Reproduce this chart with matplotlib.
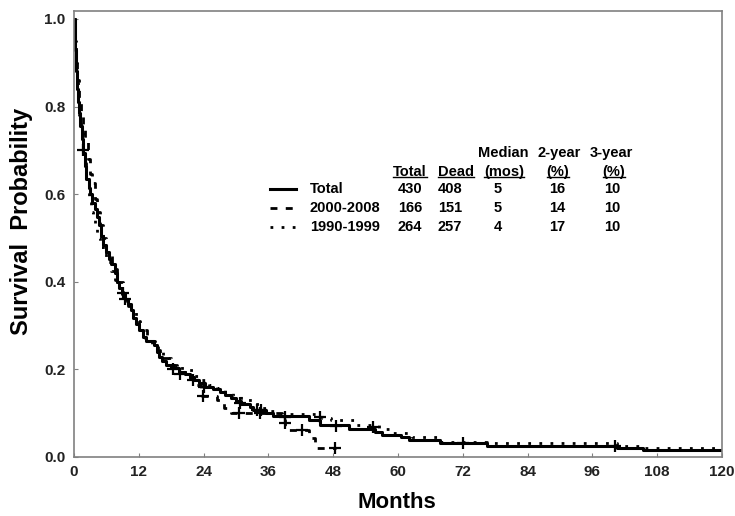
import matplotlib
matplotlib.use('Agg')
import matplotlib.pyplot as plt
from matplotlib.lines import Line2D

plt.rcParams['font.family'] = ['Liberation Sans', 'DejaVu Sans']
plt.rcParams['font.weight'] = 'bold'

# Kaplan-Meier steps (months, survival)
total_t = [0, 0.1, 0.2, 0.35, 0.5, 0.7, 0.9, 1.1, 1.4, 1.7, 2.0, 2.3, 2.7, 3.0, 3.4, 3.8, 4.2, 4.6,
           5.0, 5.4, 5.9, 6.4, 6.8, 7.6, 7.9, 8.4, 8.9, 9.5, 10.0, 10.5, 11.0, 11.5, 12.1, 12.7,
           13.4, 14.8, 15.3, 15.8, 16.3, 17.0, 18.0, 19.5, 20.6, 21.5, 22.3, 23.2, 24.2, 25.8,
           27.0, 28.0, 29.0, 30.0, 31.0, 32.5, 33.2, 35.5, 36.9, 43.5, 45.5, 51.0, 55.8, 57.0,
           60.5, 62.0, 67.8, 76.4, 100.5, 105.3, 120]
total_s = [1.0, 0.96, 0.93, 0.88, 0.84, 0.81, 0.785, 0.755, 0.725, 0.695, 0.665, 0.635, 0.615,
           0.60, 0.58, 0.565, 0.548, 0.53, 0.505, 0.485, 0.468, 0.452, 0.44, 0.42, 0.40, 0.385,
           0.372, 0.36, 0.35, 0.335, 0.318, 0.303, 0.29, 0.275, 0.265, 0.255, 0.24, 0.228, 0.218,
           0.21, 0.203, 0.195, 0.19, 0.183, 0.176, 0.168, 0.16, 0.155, 0.148, 0.142, 0.135, 0.128,
           0.12, 0.113, 0.107, 0.10, 0.093, 0.085, 0.072, 0.065, 0.058, 0.05, 0.045, 0.039, 0.031,
           0.026, 0.021, 0.016, 0.016]
total_cens_t = [1.7, 9.0, 9.4, 18.4, 19.6, 22.0, 24.0, 30.7, 33.8, 34.7, 39.0, 48.6, 55.4, 72.0, 100.2]
total_cens_s = [0.70, 0.375, 0.36, 0.20, 0.19, 0.176, 0.16, 0.123, 0.107, 0.107, 0.092, 0.07, 0.068, 0.031, 0.026]

recent_t = [0, 0.2, 0.4, 0.6, 0.9, 1.3, 1.7, 2.1, 2.6, 3.0, 3.4, 3.8, 4.3, 4.8, 5.3, 6.0, 7.0,
            8.0, 9.0, 10.0, 11.0, 12.0, 13.5, 15.0, 16.0, 17.5, 19.0, 21.0, 22.5, 23.5, 26.5,
            27.8, 29.0, 38.6, 39.0, 39.4, 43.6, 44.6, 48.5]
recent_s = [1.0, 0.95, 0.9, 0.86, 0.82, 0.78, 0.75, 0.72, 0.68, 0.645, 0.625, 0.59, 0.56, 0.53,
            0.50, 0.465, 0.43, 0.40, 0.37, 0.345, 0.315, 0.29, 0.265, 0.245, 0.225, 0.21, 0.195,
            0.18, 0.165, 0.14, 0.13, 0.112, 0.10, 0.084, 0.07, 0.062, 0.043, 0.02, 0.02]
recent_cens_t = [23.9, 30.6, 34.5, 39.0, 42.2, 48.3]
recent_cens_s = [0.14, 0.10, 0.10, 0.078, 0.062, 0.02]

older_t = [0, 0.1, 0.3, 0.5, 0.7, 1.0, 1.3, 1.6, 2.0, 2.3, 2.7, 3.1, 3.5, 3.9, 4.3, 4.8, 5.3,
           6.0, 6.8, 7.5, 8.3, 9.0, 9.8, 10.6, 11.4, 12.2, 13.2, 14.5, 15.5, 16.5, 18.0, 20.0,
           22.0, 23.5, 25.0, 26.5, 28.0, 29.5, 31.0, 33.0, 34.5, 36.0, 38.0, 46.0, 47.5, 52.0,
           56.5, 59.0, 62.5, 68.0, 76.5, 100.5, 105.3, 120]
older_s = [1.0, 0.95, 0.9, 0.86, 0.82, 0.78, 0.745, 0.71, 0.67, 0.63, 0.59, 0.56, 0.54, 0.52,
           0.50, 0.48, 0.465, 0.445, 0.425, 0.405, 0.385, 0.37, 0.35, 0.33, 0.31, 0.29, 0.272,
           0.258, 0.24, 0.225, 0.21, 0.198, 0.185, 0.175, 0.165, 0.158, 0.148, 0.14, 0.13, 0.12,
           0.112, 0.105, 0.098, 0.09, 0.085, 0.074, 0.065, 0.055, 0.045, 0.035, 0.031, 0.025,
           0.021, 0.021]
older_cens_t = [45.5]
older_cens_s = [0.092]

# table next to the legend
groups = ['Total', '2000-2008', '1990-1999']
n_total = ['430', '166', '264']
n_dead = ['408', '151', '257']
median_mos = ['5', '5', '4']
two_year = ['16', '14', '17']
three_year = ['10', '10', '10']

W, H = 735, 516
fig = plt.figure(figsize=(W / 100, H / 100), dpi=100)
ax = fig.add_axes([74 / W, 1 - 457 / H, 648 / W, 446 / H])

solid = dict(color='black', lw=2.2, linestyle='-')
dashed = dict(color='black', lw=2.0, linestyle=(0, (2.5, 3)))
dotted = dict(color='black', lw=2.0, linestyle=(0, (1, 3)))
styles = [solid, dashed, dotted]

ax.step(older_t, older_s, where='post', **dotted)
ax.step(recent_t, recent_s, where='post', **dashed)
ax.step(total_t, total_s, where='post', **solid)
for ct, cs in [(total_cens_t, total_cens_s), (recent_cens_t, recent_cens_s), (older_cens_t, older_cens_s)]:
    ax.plot(ct, cs, '+', color='black', ms=8, mew=1.6)

ax.set_xlim(0, 120)
ax.set_ylim(0, 1.018)
ax.set_xticks(range(0, 121, 12))
ax.set_yticks([0, 0.2, 0.4, 0.6, 0.8, 1.0])
ax.set_yticklabels(['0.0', '0.2', '0.4', '0.6', '0.8', '1.0'])
ax.tick_params(direction='in', length=3, color='#808080', labelsize=11, labelcolor='#222222')
ax.tick_params(axis='x', pad=6)
ax.tick_params(axis='y', pad=6)
for sp in ax.spines.values():
    sp.set_color('#808080')
    sp.set_linewidth(1.2)

fig.text(397 / W, 1 - 503 / H, 'Months', ha='center', va='center', fontsize=16, fontweight='bold')
fig.text(22 / W, 1 - 221 / H, 'Survival  Probability', ha='center', va='center',
         rotation=90, fontsize=17, fontweight='bold')


def fx(x):
    return x / W


def fy(y):
    return 1 - y / H


fs = 10.5
headers = [
    ('Median', 503, 153), ('2-year', 559, 153), ('3-year', 611, 153),
    ('Total', 410, 172), ('Dead', 456, 172), ('(mos)', 504, 172), ('(%)', 558, 172), ('(%)', 614, 172),
]
underlined = []
for txt, x, y in headers:
    t = fig.text(fx(x), fy(y), txt, ha='center', va='center', fontsize=fs, fontweight='bold')
    if y == 172:
        underlined.append(t)

row_y = [189, 208, 227]
for i, g in enumerate(groups):
    y = row_y[i]
    fig.add_artist(Line2D([fx(270), fx(296)], [fy(y), fy(y)], transform=fig.transFigure, **styles[i]))
    fig.text(fx(310), fy(y), g, ha='left', va='center', fontsize=fs, fontweight='bold')
    fig.text(fx(410), fy(y), n_total[i], ha='center', va='center', fontsize=fs, fontweight='bold')
    fig.text(fx(450), fy(y), n_dead[i], ha='center', va='center', fontsize=fs, fontweight='bold')
    fig.text(fx(498), fy(y), median_mos[i], ha='center', va='center', fontsize=fs, fontweight='bold')
    fig.text(fx(557), fy(y), two_year[i], ha='center', va='center', fontsize=fs, fontweight='bold')
    fig.text(fx(612), fy(y), three_year[i], ha='center', va='center', fontsize=fs, fontweight='bold')

# underline the second header row
fig.canvas.draw()
r = fig.canvas.get_renderer()
for t in underlined:
    bb = t.get_window_extent(r)
    fig.add_artist(Line2D([bb.x0 / W, bb.x1 / W], [fy(177), fy(177)],
                          transform=fig.transFigure, color='black', lw=1.0))

fig.savefig('out.png', dpi=100)
